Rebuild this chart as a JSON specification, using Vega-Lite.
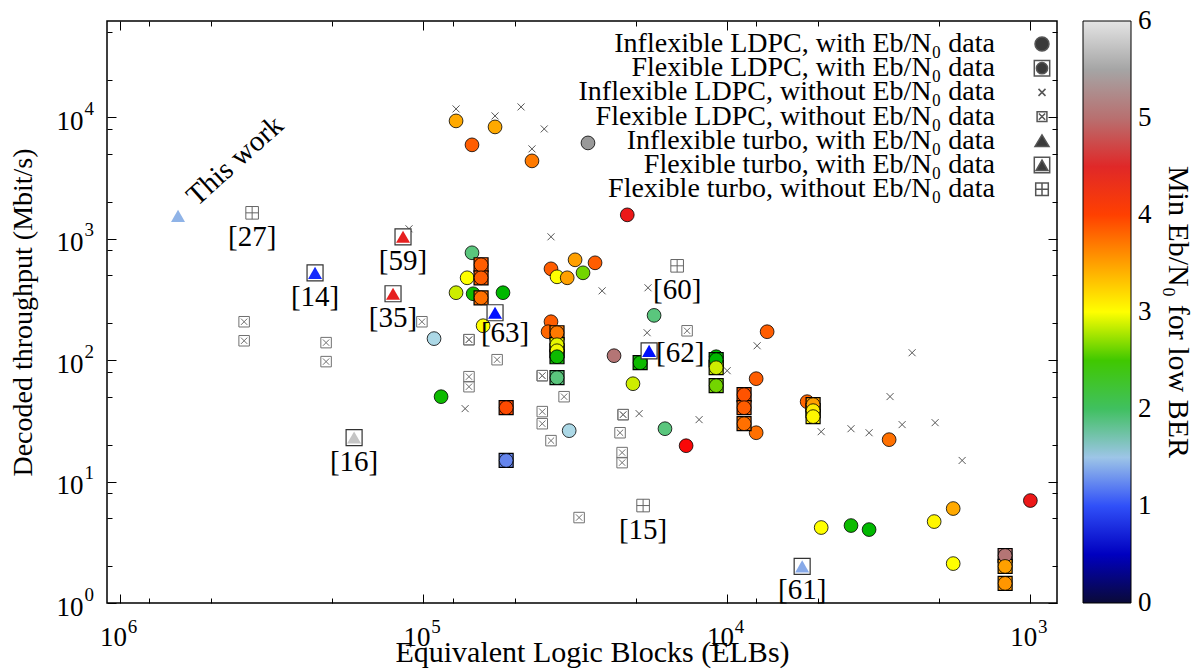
{
  "$schema": "https://vega.github.io/schema/vega-lite/v6.json",
  "width": 950,
  "height": 582,
  "autosize": {"type": "none"},
  "padding": {"left": 107, "top": 21, "right": 139, "bottom": 66},
  "background": "white",
  "config": {
    "view": {"stroke": "black", "strokeWidth": 1.5},
    "point": {"opacity": 1},
    "axis": {
      "labelFont": "Liberation Serif", "titleFont": "Liberation Serif",
      "labelFontSize": 27, "titleFontSize": 30, "titleFontWeight": "normal",
      "labelColor": "black", "titleColor": "black", "tickColor": "black",
      "tickWidth": 1, "domain": false, "grid": false, "labelFlush": false, "labelOverlap": false
    },
    "legend": {"labelFont": "Liberation Serif", "titleFont": "Liberation Serif", "labelColor": "black", "titleColor": "black", "titleFontWeight": "normal"}
  },
  "datasets": {
    "pts": [
      {"t":"ILw","e":78100,"g":9290,"v":3.45},
      {"t":"ILw","e":58100,"g":8290,"v":3.45},
      {"t":"ILw","e":69200,"g":5900,"v":3.85},
      {"t":"ILw","e":43900,"g":4355,"v":3.7},
      {"t":"ILw","e":28700,"g":6120,"v":5.4},
      {"t":"ILw","e":21300,"g":1566,"v":4.4},
      {"t":"ILw","e":69200,"g":763,"v":1.9},
      {"t":"ILw","e":71800,"g":475,"v":3.0},
      {"t":"ILw","e":78100,"g":358,"v":2.8},
      {"t":"ILw","e":68600,"g":351,"v":2.3},
      {"t":"ILw","e":54700,"g":358,"v":2.25},
      {"t":"ILw","e":63600,"g":191.5,"v":3.0},
      {"t":"ILw","e":92300,"g":150,"v":1.6},
      {"t":"ILw","e":87500,"g":49.9,"v":2.3},
      {"t":"ILw","e":33100,"g":26.2,"v":1.6},
      {"t":"ILw","e":38000,"g":563,"v":3.85},
      {"t":"ILw","e":36300,"g":484,"v":3.0},
      {"t":"ILw","e":33600,"g":475,"v":3.5},
      {"t":"ILw","e":31650,"g":668,"v":3.5},
      {"t":"ILw","e":29800,"g":522,"v":2.6},
      {"t":"ILw","e":27200,"g":631,"v":3.85},
      {"t":"ILw","e":38000,"g":206.5,"v":3.85},
      {"t":"ILw","e":38850,"g":170.9,"v":3.8},
      {"t":"ILw","e":23550,"g":108.5,"v":5.05},
      {"t":"ILw","e":17380,"g":233,"v":1.9},
      {"t":"ILw","e":20400,"g":63.8,"v":2.8},
      {"t":"ILw","e":16000,"g":27.2,"v":1.9},
      {"t":"ILw","e":13630,"g":19.7,"v":4.3},
      {"t":"ILw","e":10850,"g":106.4,"v":2.25},
      {"t":"ILw","e":7370,"g":170.9,"v":3.85},
      {"t":"ILw","e":8010,"g":70.2,"v":3.85},
      {"t":"ILw","e":8010,"g":25.2,"v":3.75},
      {"t":"ILw","e":5440,"g":45.4,"v":3.8},
      {"t":"ILw","e":2920,"g":22.1,"v":3.75},
      {"t":"ILw","e":1000,"g":6.97,"v":4.4},
      {"t":"ILw","e":1796,"g":5.99,"v":3.45},
      {"t":"ILw","e":2075,"g":4.68,"v":3.05},
      {"t":"ILw","e":4890,"g":4.18,"v":3.0},
      {"t":"ILw","e":3900,"g":4.34,"v":2.3},
      {"t":"ILw","e":3400,"g":4.02,"v":2.25},
      {"t":"ILw","e":1796,"g":2.11,"v":3.0},
      {"t":"FLw","e":64600,"g":608,"v":3.85},
      {"t":"FLw","e":64600,"g":475,"v":3.85},
      {"t":"FLw","e":64600,"g":325,"v":3.75},
      {"t":"FLw","e":53400,"g":40.5,"v":3.95},
      {"t":"FLw","e":53400,"g":14.9,"v":1.2},
      {"t":"FLw","e":36300,"g":167.7,"v":3.7},
      {"t":"FLw","e":36300,"g":133.6,"v":2.9},
      {"t":"FLw","e":36300,"g":119.2,"v":2.95},
      {"t":"FLw","e":36300,"g":106.4,"v":2.3},
      {"t":"FLw","e":36300,"g":71.5,"v":1.9},
      {"t":"FLw","e":19320,"g":95.0,"v":2.3},
      {"t":"FLw","e":10850,"g":100.6,"v":2.25},
      {"t":"FLw","e":10850,"g":86.4,"v":2.8},
      {"t":"FLw","e":10850,"g":61.5,"v":2.6},
      {"t":"FLw","e":8780,"g":51.8,"v":3.9},
      {"t":"FLw","e":8780,"g":40.5,"v":3.85},
      {"t":"FLw","e":8780,"g":29.9,"v":3.75},
      {"t":"FLw","e":5200,"g":42.9,"v":3.5},
      {"t":"FLw","e":5200,"g":38.3,"v":3.1},
      {"t":"FLw","e":5200,"g":34.2,"v":3.05},
      {"t":"FLw","e":1211,"g":2.46,"v":5.05},
      {"t":"FLw","e":1211,"g":2.0,"v":3.5},
      {"t":"FLw","e":1211,"g":1.45,"v":3.55},
      {"t":"ITw","e":644000,"g":1537,"v":1.4,"lab":"This work"},
      {"t":"FTw","e":116800,"g":1033,"v":4.45,"lab":"[59]"},
      {"t":"FTw","e":227700,"g":522,"v":0.85,"lab":"[14]"},
      {"t":"FTw","e":126000,"g":351,"v":4.45,"lab":"[35]"},
      {"t":"FTw","e":169300,"g":23.0,"v":5.75,"lab":"[16]"},
      {"t":"FTw","e":58100,"g":245,"v":0.75,"lab":"[63]"},
      {"t":"FTw","e":18050,"g":119,"v":0.75,"lab":"[62]"},
      {"t":"FTw","e":5650,"g":2.0,"v":1.35,"lab":"[61]"},
      {"t":"FTo","e":367000,"g":1627,"lab":"[27]"},
      {"t":"FTo","e":14590,"g":596,"lab":"[60]"},
      {"t":"FTo","e":18890,"g":6.34,"lab":"[15]"},
      {"t":"FLo","e":390000,"g":206.5},
      {"t":"FLo","e":390000,"g":144},
      {"t":"FLo","e":209400,"g":139},
      {"t":"FLo","e":209400,"g":97},
      {"t":"FLo","e":101200,"g":206.5},
      {"t":"FLo","e":70800,"g":147},
      {"t":"FLo","e":70800,"g":147},
      {"t":"FLo","e":70800,"g":72.9},
      {"t":"FLo","e":70800,"g":60.3},
      {"t":"FLo","e":57200,"g":100.6},
      {"t":"FLo","e":40600,"g":74.3},
      {"t":"FLo","e":40600,"g":74.3},
      {"t":"FLo","e":34400,"g":49.9},
      {"t":"FLo","e":40600,"g":37.6},
      {"t":"FLo","e":40600,"g":29.9},
      {"t":"FLo","e":38000,"g":21.7},
      {"t":"FLo","e":30700,"g":5.05},
      {"t":"FLo","e":21980,"g":35.5},
      {"t":"FLo","e":21980,"g":35.5},
      {"t":"FLo","e":22500,"g":25.2},
      {"t":"FLo","e":22150,"g":17.3},
      {"t":"FLo","e":22150,"g":14.3},
      {"t":"FLo","e":13530,"g":174},
      {"t":"ILo","e":78100,"g":11660},
      {"t":"ILo","e":58100,"g":10210},
      {"t":"ILo","e":47700,"g":12110},
      {"t":"ILo","e":40000,"g":7980},
      {"t":"ILo","e":43900,"g":5466},
      {"t":"ILo","e":111600,"g":1202},
      {"t":"ILo","e":38000,"g":1033},
      {"t":"ILo","e":25780,"g":371},
      {"t":"ILo","e":18200,"g":393},
      {"t":"ILo","e":18320,"g":167.7},
      {"t":"ILo","e":72900,"g":39.8},
      {"t":"ILo","e":19470,"g":36.2},
      {"t":"ILo","e":12350,"g":32.3},
      {"t":"ILo","e":9980,"g":81.7},
      {"t":"ILo","e":7950,"g":131},
      {"t":"ILo","e":4890,"g":25.7},
      {"t":"ILo","e":3900,"g":27.2},
      {"t":"ILo","e":3400,"g":25.2},
      {"t":"ILo","e":2900,"g":50.0},
      {"t":"ILo","e":2646,"g":29.4},
      {"t":"ILo","e":2453,"g":114.8},
      {"t":"ILo","e":2060,"g":30.5},
      {"t":"ILo","e":1678,"g":14.9}
    ]
  },
  "data": {"name": "pts"},
  "resolve": {
    "axis": {"x": "independent", "y": "independent"},
    "scale": {"shape": "independent"},
    "legend": {"shape": "independent"}
  },
  "encoding": {
    "x": {"field": "e", "type": "quantitative", "scale": {"type": "log", "domain": [817, 1104000], "reverse": true, "nice": false, "zero": false}, "axis": null},
    "y": {"field": "g", "type": "quantitative", "scale": {"type": "log", "domain": [1, 61700], "nice": false, "zero": false}, "axis": null}
  },
  "layer": [
    {
      "transform": [{"filter": "false"}],
      "mark": {"type": "point", "filled": true, "fill": "#3a3a3a", "stroke": "#555555", "strokeWidth": 1, "size": 196, "opacity": 1},
      "encoding": {
        "x": {"field": "e", "type": "quantitative", "scale": {"type": "log", "domain": [817, 1104000], "reverse": true, "nice": false, "zero": false},
          "axis": {"orient": "bottom", "values": [1000, 10000, 100000, 1000000], "ticks": false, "labelExpr": "'10'", "labelPadding": 21, "labelOffset": -7, "title": "Equivalent Logic Blocks (ELBs)", "titlePadding": -13, "titleX": 485, "titleAlign": "center", "titleAnchor": null}},
        "y": {"field": "g", "type": "quantitative", "scale": {"type": "log", "domain": [1, 61700], "nice": false, "zero": false},
          "axis": {"orient": "left", "values": [1, 10, 100, 1000, 10000], "ticks": false, "labelExpr": "'10'", "labelPadding": 24, "labelOffset": 4, "title": "Decoded throughput (Mbit/s)", "titleFontSize": 28, "titlePadding": 19}},
        "shape": {
          "field": "t", "type": "nominal",
          "scale": {
            "domain": ["ILw", "ILo", "ITw", "FTo"],
            "range": [
              "M0,-1A1,1,0,1,1,0,1A1,1,0,1,1,0,-1Z",
              "M-0.5,-0.5L0.5,0.5M-0.5,0.5L0.5,-0.5",
              "M0,-0.85L-1,0.8L1,0.8Z",
              "M-0.9,-0.9H0.9V0.9H-0.9Z M-0.9,-0.9V0.9H0.9V-0.9Z M0,-0.9V0.9 M-0.9,0H0.9"
            ]
          },
          "legend": {
            "orient": "none", "legendX": 921, "legendY": 9, "title": null, "direction": "vertical",
            "symbolSize": 196, "labelAlign": "right", "labelOffset": -61,
            "labelFontSize": 28, "labelLimit": 0, "rowPadding": 20.4,
            "labelExpr": "datum.label == 'ILw' ? 'Inflexible LDPC, with Eb/N₀ data' : datum.label == 'ILo' ? 'Inflexible LDPC, without Eb/N₀ data' : datum.label == 'ITw' ? 'Inflexible turbo, with Eb/N₀ data' : 'Flexible turbo, without Eb/N₀ data'"
          }
        }
      }
    },
    {
      "transform": [{"filter": "false"}],
      "mark": {"type": "point", "filled": true, "fill": "#3a3a3a", "stroke": "#555555", "strokeWidth": 1, "size": 196, "opacity": 1},
      "encoding": {
        "shape": {
          "field": "t", "type": "nominal",
          "scale": {
            "domain": ["FLw", "FLo", "FTw"],
            "range": [
              "M-1.1,-1.1H1.1V1.1H-1.1Z M-1.1,-1.1V1.1H1.1V-1.1Z M0,-0.8A0.8,0.8,0,1,1,0,0.8A0.8,0.8,0,1,1,0,-0.8Z",
              "M-0.7,-0.7H0.7V0.7H-0.7Z M-0.7,-0.7V0.7H0.7V-0.7Z M-0.45,-0.45L0.45,0.45 M-0.45,0.45L0.45,-0.45",
              "M-1.1,-1.1H1.1V1.1H-1.1Z M-1.1,-1.1V1.1H1.1V-1.1Z M0,-0.7L-0.85,0.8L0.85,0.8Z"
            ]
          },
          "legend": {
            "orient": "none", "legendX": 921, "legendY": 33.2, "title": null, "direction": "vertical",
            "symbolSize": 196, "labelAlign": "right", "labelOffset": -61,
            "labelFontSize": 28, "labelLimit": 0, "rowPadding": 20.4,
            "labelExpr": "datum.label == 'FLw' ? 'Flexible LDPC, with Eb/N₀ data' : datum.label == 'FLo' ? 'Flexible LDPC, without Eb/N₀ data' : 'Flexible turbo, with Eb/N₀ data'"
          }
        }
      }
    },
    {
      "transform": [{"filter": {"field": "t", "equal": "ILo"}}],
      "mark": {"type": "point", "filled": false, "shape": "M-0.5,-0.5L0.5,0.5M-0.5,0.5L0.5,-0.5", "stroke": "#555555", "strokeWidth": 1, "size": 196, "opacity": 1}
    },
    {
      "transform": [{"filter": {"field": "t", "equal": "FLo"}}],
      "mark": {"type": "point", "filled": false, "shape": "M-0.75,-0.75H0.75V0.75H-0.75Z M-0.45,-0.45L0.45,0.45 M-0.45,0.45L0.45,-0.45", "stroke": "#707070", "strokeWidth": 1, "size": 196, "opacity": 1}
    },
    {
      "transform": [{"filter": {"field": "t", "equal": "FTo"}}],
      "mark": {"type": "point", "filled": false, "shape": "M-0.9,-0.9H0.9V0.9H-0.9Z M0,-0.9V0.9 M-0.9,0H0.9", "stroke": "#666666", "strokeWidth": 1, "size": 196, "opacity": 1}
    },
    {
      "transform": [{"filter": {"field": "t", "equal": "ILw"}}],
      "mark": {"type": "point", "shape": "circle", "filled": true, "size": 189, "stroke": "black", "strokeWidth": 0.8, "opacity": 1},
      "encoding": {
        "x": {"field": "e", "type": "quantitative", "scale": {"type": "log", "domain": [817, 1104000], "reverse": true, "nice": false, "zero": false},
          "axis": {"orient": "bottom", "values": [1000, 10000, 100000, 1000000], "ticks": false, "labelExpr": "round(log(datum.value) / LN10)", "labelFontSize": 19, "labelPadding": 14, "labelOffset": 12, "title": null}},
        "y": {"field": "g", "type": "quantitative", "scale": {"type": "log", "domain": [1, 61700], "nice": false, "zero": false},
          "axis": {"orient": "left", "values": [1, 10, 100, 1000, 10000], "ticks": false, "labelExpr": "round(log(datum.value) / LN10)", "labelFontSize": 19, "labelAlign": "left", "labelPadding": 23, "labelOffset": -9, "title": null}},
        "fill": {
          "field": "v", "type": "quantitative",
          "scale": {
            "type": "linear", "interpolate": "rgb",
            "domain": [-0.001, 0.5, 0.75, 1, 1.3, 1.6, 1.75, 2, 2.25, 2.5, 2.75, 3, 3.5, 4, 4.25, 4.5, 5, 5.4, 6.001],
            "range": ["#0a0a38", "#0000c0", "#0010ff", "#3050f8", "#80a0e8", "#acd8e6", "#80d0a8", "#40c060", "#00b800", "#40c800", "#c0e800", "#ffff00", "#ffa000", "#ff4000", "#ff0000", "#e02828", "#b87070", "#999999", "#e4e4e4"]
          },
          "legend": {
            "orient": "none", "legendX": 976, "legendY": 0, "direction": "vertical",
            "gradientLength": 582, "gradientThickness": 48,
            "gradientStrokeColor": "black", "gradientStrokeWidth": 1,
            "values": [0, 1, 2, 3, 4, 5, 6], "format": "d", "labelFontSize": 27, "labelOffset": 7, "labelOverlap": false,
            "title": "Min Eb/N₀ for low BER", "titleOrient": "right", "titleAngle": 90, "titleFontSize": 30, "titleAnchor": "middle", "titleLimit": 0, "titlePadding": 11
          }
        }
      }
    },
    {
      "transform": [{"filter": {"field": "t", "equal": "FLw"}}],
      "mark": {"type": "point", "shape": "square", "filled": true, "size": 196, "stroke": "black", "strokeWidth": 1.2, "opacity": 1},
      "encoding": {
        "x": {"field": "e", "type": "quantitative", "scale": {"type": "log", "domain": [817, 1104000], "reverse": true, "nice": false, "zero": false},
          "axis": {"orient": "bottom", "values": [1000, 10000, 100000, 1000000], "labels": false, "tickSize": -9, "title": null}},
        "y": {"field": "g", "type": "quantitative", "scale": {"type": "log", "domain": [1, 61700], "nice": false, "zero": false},
          "axis": {"orient": "left", "values": [1, 10, 100, 1000, 10000], "labels": false, "tickSize": -9, "title": null}},
        "fill": {"field": "v", "type": "quantitative",
          "scale": {"type": "linear", "interpolate": "rgb",
            "domain": [-0.001, 0.5, 0.75, 1, 1.3, 1.6, 1.75, 2, 2.25, 2.5, 2.75, 3, 3.5, 4, 4.25, 4.5, 5, 5.4, 6.001],
            "range": ["#0a0a38", "#0000c0", "#0010ff", "#3050f8", "#80a0e8", "#acd8e6", "#80d0a8", "#40c060", "#00b800", "#40c800", "#c0e800", "#ffff00", "#ffa000", "#ff4000", "#ff0000", "#e02828", "#b87070", "#999999", "#e4e4e4"]}}
      }
    },
    {
      "transform": [{"filter": {"field": "t", "equal": "FLw"}}],
      "mark": {"type": "point", "shape": "circle", "filled": true, "size": 189, "stroke": "black", "strokeWidth": 0.8, "opacity": 1},
      "encoding": {
        "x": {"field": "e", "type": "quantitative", "scale": {"type": "log", "domain": [817, 1104000], "reverse": true, "nice": false, "zero": false},
          "axis": {"orient": "bottom", "values": [2000, 5000, 8000, 20000, 50000, 80000, 200000, 500000, 800000], "labels": false, "tickSize": -5, "title": null}},
        "y": {"field": "g", "type": "quantitative", "scale": {"type": "log", "domain": [1, 61700], "nice": false, "zero": false},
          "axis": {"orient": "left", "values": [2, 5, 8, 20, 50, 80, 200, 500, 800, 2000, 5000, 8000, 20000, 50000], "labels": false, "tickSize": -5, "title": null}},
        "fill": {"field": "v", "type": "quantitative",
          "scale": {"type": "linear", "interpolate": "rgb",
            "domain": [-0.001, 0.5, 0.75, 1, 1.3, 1.6, 1.75, 2, 2.25, 2.5, 2.75, 3, 3.5, 4, 4.25, 4.5, 5, 5.4, 6.001],
            "range": ["#0a0a38", "#0000c0", "#0010ff", "#3050f8", "#80a0e8", "#acd8e6", "#80d0a8", "#40c060", "#00b800", "#40c800", "#c0e800", "#ffff00", "#ffa000", "#ff4000", "#ff0000", "#e02828", "#b87070", "#999999", "#e4e4e4"]}}
      }
    },
    {
      "transform": [{"filter": {"field": "t", "equal": "FTw"}}],
      "mark": {"type": "point", "shape": "square", "filled": true, "fill": "white", "size": 256, "stroke": "#333333", "strokeWidth": 1.2, "opacity": 1},
      "encoding": {
        "x": {"field": "e", "type": "quantitative", "scale": {"type": "log", "domain": [817, 1104000], "reverse": true, "nice": false, "zero": false},
          "axis": {"orient": "top", "values": [1000, 10000, 100000, 1000000], "labels": false, "tickSize": -9, "title": null}},
        "y": {"field": "g", "type": "quantitative", "scale": {"type": "log", "domain": [1, 61700], "nice": false, "zero": false},
          "axis": {"orient": "right", "values": [1, 10, 100, 1000, 10000], "labels": false, "tickSize": -9, "title": null}}
      }
    },
    {
      "transform": [{"filter": {"field": "t", "oneOf": ["FTw", "ITw"]}}],
      "mark": {"type": "point", "shape": "triangle-up", "filled": true, "size": 196, "strokeWidth": 0, "opacity": 1},
      "encoding": {
        "x": {"field": "e", "type": "quantitative", "scale": {"type": "log", "domain": [817, 1104000], "reverse": true, "nice": false, "zero": false},
          "axis": {"orient": "top", "values": [2000, 5000, 8000, 20000, 50000, 80000, 200000, 500000, 800000], "labels": false, "tickSize": -5, "title": null}},
        "y": {"field": "g", "type": "quantitative", "scale": {"type": "log", "domain": [1, 61700], "nice": false, "zero": false},
          "axis": {"orient": "right", "values": [2, 5, 8, 20, 50, 80, 200, 500, 800, 2000, 5000, 8000, 20000, 50000], "labels": false, "tickSize": -5, "title": null}},
        "fill": {"field": "v", "type": "quantitative",
          "scale": {"type": "linear", "interpolate": "rgb",
            "domain": [-0.001, 0.5, 0.75, 1, 1.3, 1.6, 1.75, 2, 2.25, 2.5, 2.75, 3, 3.5, 4, 4.25, 4.5, 5, 5.4, 6.001],
            "range": ["#0a0a38", "#0000c0", "#0010ff", "#3050f8", "#80a0e8", "#acd8e6", "#80d0a8", "#40c060", "#00b800", "#40c800", "#c0e800", "#ffff00", "#ffa000", "#ff4000", "#ff0000", "#e02828", "#b87070", "#999999", "#e4e4e4"]}}
      }
    },
    {
      "transform": [{"filter": {"field": "lab", "oneOf": ["[27]", "[59]", "[14]", "[35]", "[16]", "[60]", "[15]", "[61]"]}}],
      "mark": {"type": "text", "font": "Liberation Serif", "fontSize": 29, "align": "center", "baseline": "middle", "dy": 24, "color": "black"},
      "encoding": {"text": {"field": "lab"}}
    },
    {
      "transform": [{"filter": {"field": "lab", "equal": "[63]"}}],
      "mark": {"type": "text", "font": "Liberation Serif", "fontSize": 29, "align": "center", "baseline": "middle", "dx": 10, "dy": 20, "color": "black"},
      "encoding": {"text": {"field": "lab"}}
    },
    {
      "transform": [{"filter": {"field": "lab", "equal": "[62]"}}],
      "mark": {"type": "text", "font": "Liberation Serif", "fontSize": 29, "align": "left", "baseline": "middle", "dx": 7, "dy": 2, "color": "black"},
      "encoding": {"text": {"field": "lab"}}
    },
    {
      "transform": [{"filter": {"field": "lab", "equal": "This work"}}],
      "mark": {"type": "text", "font": "Liberation Serif", "fontSize": 29, "align": "left", "baseline": "alphabetic", "angle": -42, "dx": 20, "dy": 6, "color": "black"},
      "encoding": {"text": {"field": "lab"}}
    }
  ]
}
